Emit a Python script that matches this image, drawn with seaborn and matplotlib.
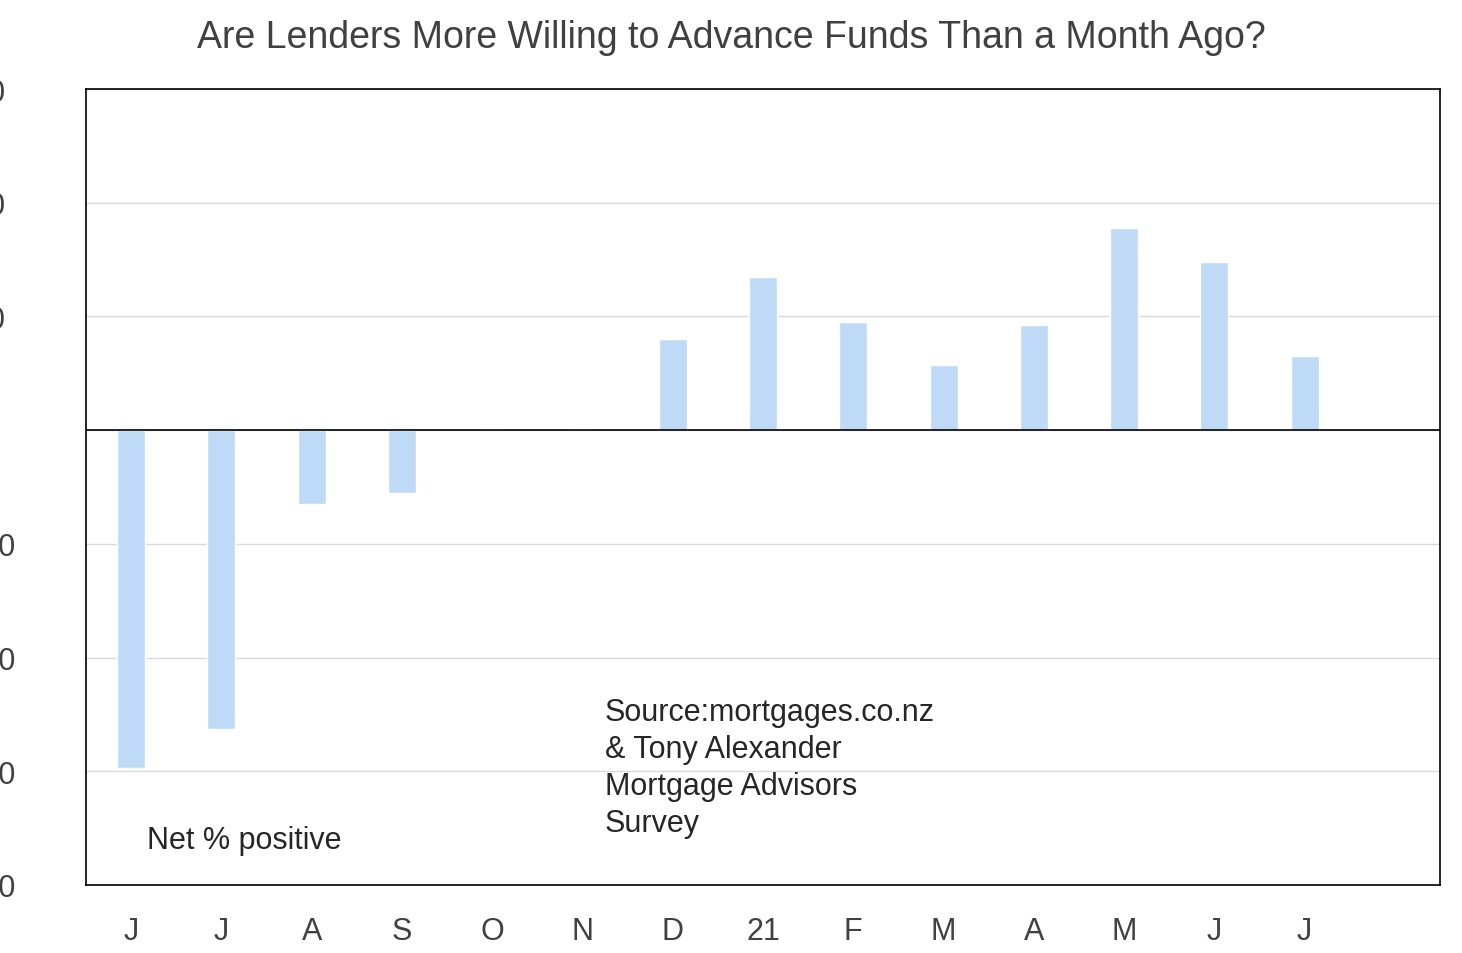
import matplotlib
matplotlib.use("Agg")
import matplotlib.pyplot as plt
import seaborn as sns
import pandas as pd

labels = ["J","J","A","S","O","N","D","21","F","M","A","M","J","J"]
values = [-59.5,-52.5,-13,-11,0,0,16,27,19,11.5,18.5,35.5,29.5,13]

sns.set_style("white")
plt.rcParams['font.family'] = ['Liberation Sans', 'DejaVu Sans']
plt.rcParams['axes.unicode_minus'] = False
fig = plt.figure(figsize=(14.62, 9.54), dpi=100)
ax = fig.add_axes([86/1462, 1-886/954, (1440-86)/1462, (886-90)/954])
df = pd.DataFrame({"x": range(len(values)), "v": values})
sns.barplot(data=df, x="x", y="v", color="#bfdaf7", saturation=1, width=0.31, ax=ax, native_scale=True)
ax.set_xlim(-0.5, 14.5)
ax.set_ylim(-80, 60)
ax.set_yticks(range(-80, 61, 20))
ax.set_xticks(range(len(labels)))
ax.set_xticklabels(labels)
ax.tick_params(axis='both', labelsize=22, colors="#404040", length=0)
ax.tick_params(axis='x', pad=22)
ax.tick_params(axis='y', pad=26)
for t in ax.get_yticklabels():
    t.set_horizontalalignment('left')
    t.set_x(-0.058)
ax.yaxis.grid(True, color="#d9d9d9", lw=1)
ax.set_axisbelow(True)
ax.axhline(0, color="black", lw=1.2)
for s in ax.spines.values():
    s.set_color("black"); s.set_linewidth(1.2)
ax.set_xlabel(""); ax.set_ylabel("")
fig.suptitle("Are Lenders More Willing to Advance Funds Than a Month Ago?", x=731/1462, y=1-38/954, va="center", fontsize=27, color="#404040")
ax.text(0.18, -72, "Net % positive", fontsize=22, va="center")
ax.text(5.25, -47, "Source:mortgages.co.nz\n& Tony Alexander\nMortgage Advisors\nSurvey", fontsize=22, va="top", linespacing=1.3)
fig.savefig("out.png", dpi=100)
